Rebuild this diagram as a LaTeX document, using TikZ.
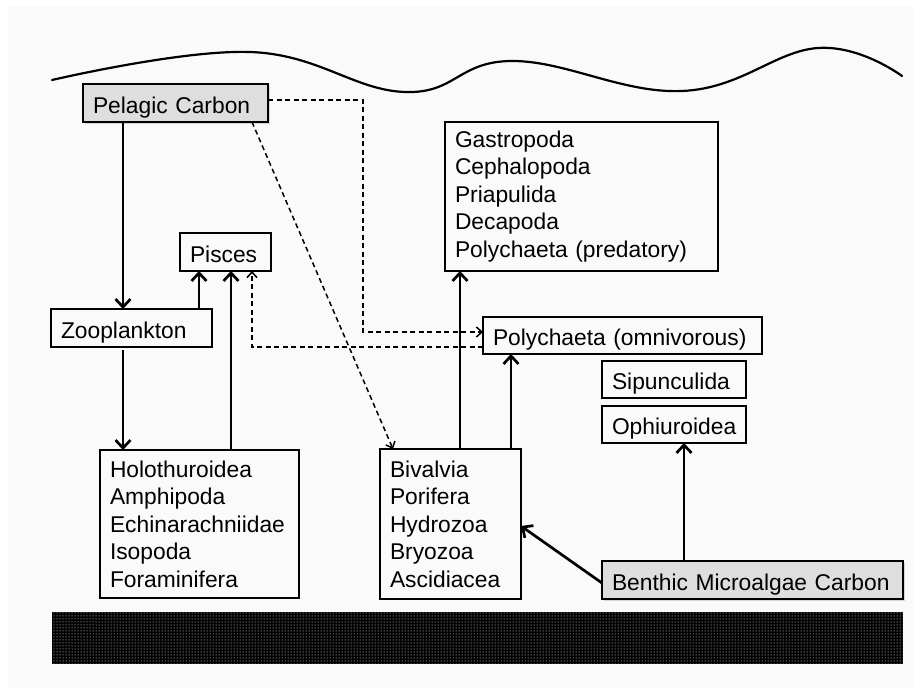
\documentclass[tikz,border=0pt]{standalone}
\usepackage{fontspec}
\setmainfont{Liberation Sans}
\usetikzlibrary{arrows.meta,patterns,shadows}
\definecolor{bgcol}{RGB}{250,250,250}
\definecolor{carbgray}{RGB}{222,222,222}
\begin{document}
\begin{tikzpicture}[x=1pt,y=-1pt,
  txt/.style={font=\fontsize{22.8}{27.5}\selectfont},
  box/.style={draw=black, line width=1.8pt, rectangle, anchor=north west, outer sep=0pt,
    inner xsep=10pt, inner ysep=0pt, align=left, txt},
  one/.style={text height=20pt, text depth=0pt},
  carbon/.style={box, one, fill=carbgray, drop shadow={shadow xshift=1.5pt, shadow yshift=-1.5pt, opacity=0.3}},
  arr/.style={line width=2.7pt, -{Straight Barb[length=8pt,width=15pt]}},
  darr/.style={line width=1.5pt, dash pattern=on 5pt off 3.5pt, -{Straight Barb[length=5.5pt,width=10pt]}}
]
\useasboundingbox (0,0) rectangle (913,688);
\fill[bgcol] (8,6) rectangle (913,688);

% sea surface
\draw[line width=2.2pt, line cap=round] plot[smooth, tension=0.7] coordinates
  {(52,80) (250,52) (405,92) (512,61) (682,91) (818,48) (902,76)};

% sediment
\fill[black] (52,612) rectangle (903,664);
\fill[pattern=dots, pattern color=white] (52,612) rectangle (903,664);

% nodes
\node[carbon, text width=165pt, minimum height=38pt] (pel) at (83,84) {Pelagic Carbon};
\node[box, one, text width=71pt, minimum height=38pt] (pis) at (180,233) {Pisces};
\node[box, one, text width=141pt, minimum height=38pt] (zoo) at (51,309) {Zooplankton};
\node[box, text width=179pt, minimum height=148pt] (holo) at (100,450)
  {Holothuroidea\\Amphipoda\\Echinarachniidae\\Isopoda\\Foraminifera};
\node[box, text width=253pt, minimum height=149pt] (gas) at (445,122)
  {Gastropoda\\Cephalopoda\\Priapulida\\Decapoda\\Polychaeta (predatory)};
\node[box, one, text width=259pt, minimum height=37pt] (omni) at (483,317) {Polychaeta (omnivorous)};
\node[box, one, text width=124pt, minimum height=37pt] (sip) at (602,361) {Sipunculida};
\node[box, one, text width=124pt, minimum height=37pt] (oph) at (602,406) {Ophiuroidea};
\node[box, text width=121pt, minimum height=150pt] (biv) at (380,449)
  {Bivalvia\\Porifera\\Hydrozoa\\Bryozoa\\Ascidiacea};
\node[carbon, text width=281pt, minimum height=38pt] (ben) at (602,561) {Benthic Microalgae Carbon};

\coordinate (bend) at (363,332);

% solid connectors
\draw[arr] ([xshift=40pt]pel.south west) -- ([xshift=72pt]zoo.north west);
\draw[arr] ([xshift=148pt]zoo.north west) -- ([xshift=148pt]zoo.north west |- pis.south);
\draw[arr] ([xshift=131pt]holo.north west) -- ([xshift=131pt]holo.north west |- pis.south);
\draw[arr] ([xshift=72pt,yshift=-3pt]zoo.south west) -- ([xshift=23pt]holo.north west);
\draw[arr] ([xshift=80pt]biv.north west) -- ([xshift=80pt]biv.north west |- gas.south);
\draw[arr] ([xshift=131pt]biv.north west) -- ([xshift=131pt]biv.north west |- omni.south);
\draw[arr] ([yshift=-3pt]ben.west) -- ([yshift=-2pt]biv.east);
\draw[arr] ([xshift=82pt]ben.north west) -- ([xshift=82pt]ben.north west |- oph.south);

% dashed connectors
\draw[darr] ([yshift=3pt]pel.east) -| (bend) -- ([yshift=3.5pt]omni.west);
\draw[darr] ([yshift=7pt]omni.south west) -| ([xshift=72pt]pis.south west);
\draw[darr] ([xshift=169pt]pel.south west) -- ([xshift=13pt]biv.north west);
\end{tikzpicture}
\end{document}
